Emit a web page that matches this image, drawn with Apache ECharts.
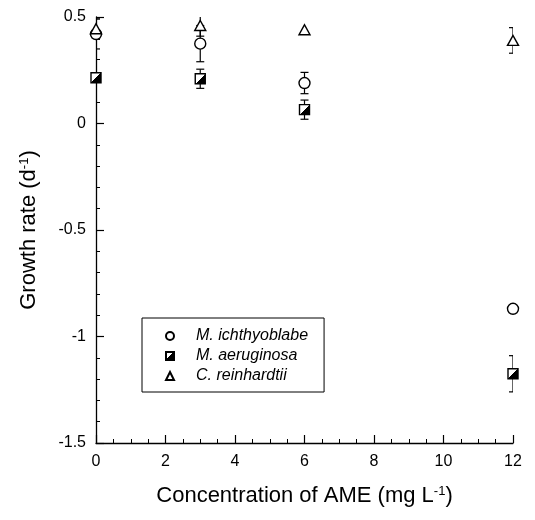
<!DOCTYPE html>
<html>
<head>
<meta charset="utf-8">
<script src="https://cdn.jsdelivr.net/npm/echarts@6/dist/echarts.min.js"></script>
<style>
  html, body { margin: 0; padding: 0; background: #fff; }
  #chart { width: 535px; height: 520px; }
</style>
</head>
<body>
<div id="chart"></div>
<script>
// concentrations of AME (mg/L)
const concentrations = [0, 3, 6, 12];

// growth rates (d-1) and their error bars
const ichthyoblabe = [0.42, 0.375, 0.19, -0.87];
const ichthyoblabeErr = [0.07, 0.085, 0.05, 0];
const aeruginosa = [0.215, 0.21, 0.065, -1.175];
const aeruginosaErr = [0, 0.045, 0.045, 0.085];
const reinhardtii = [0.445, 0.46, 0.44, 0.39];
const reinhardtiiErr = [0.05, 0.05, 0, 0.06];

const names = ["M. ichthyoblabe", "M. aeruginosa", "C. reinhardtii"];
const font = "Liberation Sans, Arial, sans-serif";

function points(vals) {
  return concentrations.map((c, i) => [c, vals[i]]);
}
function errRows(vals, errs) {
  return concentrations.map((c, i) => [c, vals[i] - errs[i], vals[i] + errs[i]]);
}

function renderErr(params, api) {
  const x = api.value(0), lo = api.value(1), hi = api.value(2);
  if (hi - lo < 1e-9) return;
  const top = api.coord([x, hi]);
  const bot = api.coord([x, lo]);
  const w = 4;
  const st = { stroke: "#000", lineWidth: 1.2 };
  return {
    type: "group",
    children: [
      { type: "line", shape: { x1: top[0], y1: top[1], x2: bot[0], y2: bot[1] }, style: st },
      { type: "line", shape: { x1: top[0] - w, y1: top[1], x2: top[0] + w, y2: top[1] }, style: st },
      { type: "line", shape: { x1: bot[0] - w, y1: bot[1], x2: bot[0] + w, y2: bot[1] }, style: st },
    ],
  };
}

function errSeries(vals, errs) {
  return {
    type: "custom",
    name: "err",
    clip: true,
    z: 1,
    silent: true,
    renderItem: renderErr,
    encode: { x: 0, y: [1, 2] },
    data: errRows(vals, errs),
  };
}

// half black square: white upper-left, black lower-right
const halfFill = {
  type: "linear", x: 0, y: 0, x2: 1, y2: 1,
  colorStops: [
    { offset: 0, color: "#fff" },
    { offset: 0.5, color: "#fff" },
    { offset: 0.5, color: "#000" },
    { offset: 1, color: "#000" },
  ],
};

const titleStyle = {
  fontFamily: font, fontSize: 22, color: "#000",
  rich: { sup: { fontFamily: font, fontSize: 13, color: "#000", verticalAlign: "top" } },
};

const chart = echarts.init(document.getElementById("chart"));

const option = {
  animation: false,
  backgroundColor: "#fff",
  grid: { left: 96, right: 22, top: 17, bottom: 77 },
  xAxis: {
    type: "value",
    min: 0,
    max: 12,
    interval: 2,
    name: "Concentration of AME (mg L{sup|-1})",
    nameLocation: "middle",
    nameGap: 42,
    nameTextStyle: titleStyle,
    axisLine: { onZero: false, lineStyle: { color: "#000", width: 1.3 } },
    axisTick: { inside: true, length: 8, lineStyle: { color: "#000", width: 1.2 } },
    minorTick: { show: true, splitNumber: 4, length: 4, lineStyle: { color: "#000", width: 1 } },
    axisLabel: { fontFamily: font, fontSize: 16, color: "#000", margin: 11 },
    splitLine: { show: false },
  },
  yAxis: {
    type: "value",
    min: -1.5,
    max: 0.5,
    interval: 0.5,
    name: "Growth rate (d{sup|-1})",
    nameLocation: "middle",
    nameRotate: 90,
    nameGap: 56,
    nameTextStyle: titleStyle,
    axisLine: { show: true, onZero: false, lineStyle: { color: "#000", width: 1.3 } },
    axisTick: { show: true, inside: true, length: 8, lineStyle: { color: "#000", width: 1.2 } },
    minorTick: { show: true, splitNumber: 5, length: 4, lineStyle: { color: "#000", width: 1 } },
    axisLabel: { fontFamily: font, fontSize: 16, color: "#000", margin: 10 },
    splitLine: { show: false },
  },
  legend: {
    data: names,
    orient: "vertical",
    left: 142,
    top: 318,
    padding: [8, 16, 6, 23],
    itemWidth: 8,
    itemHeight: 8,
    itemGap: 0,
    borderColor: "#000",
    borderWidth: 1,
    borderRadius: 0,
    textStyle: {
      fontFamily: font, fontSize: 16, fontStyle: "italic", color: "#000",
      padding: [0, 0, 0, 17], lineHeight: 20,
    },
  },
  series: [
    errSeries(ichthyoblabe, ichthyoblabeErr),
    errSeries(aeruginosa, aeruginosaErr),
    errSeries(reinhardtii, reinhardtiiErr),
    {
      type: "scatter",
      name: names[0],
      clip: false,
      z: 3,
      symbol: "circle",
      symbolSize: 11,
      itemStyle: { color: "#fff", borderColor: "#000", borderWidth: 1.4, opacity: 1 },
      data: points(ichthyoblabe),
    },
    {
      type: "scatter",
      name: names[1],
      clip: false,
      z: 3,
      symbol: "rect",
      symbolSize: 10,
      itemStyle: { color: halfFill, borderColor: "#000", borderWidth: 1.4, opacity: 1 },
      data: points(aeruginosa),
    },
    {
      type: "scatter",
      name: names[2],
      clip: false,
      z: 4,
      symbol: "triangle",
      symbolSize: [11, 10],
      itemStyle: { color: "#fff", borderColor: "#000", borderWidth: 1.4, opacity: 1 },
      data: points(reinhardtii),
    },
  ],
};

chart.setOption(option);
</script>
</body>
</html>
